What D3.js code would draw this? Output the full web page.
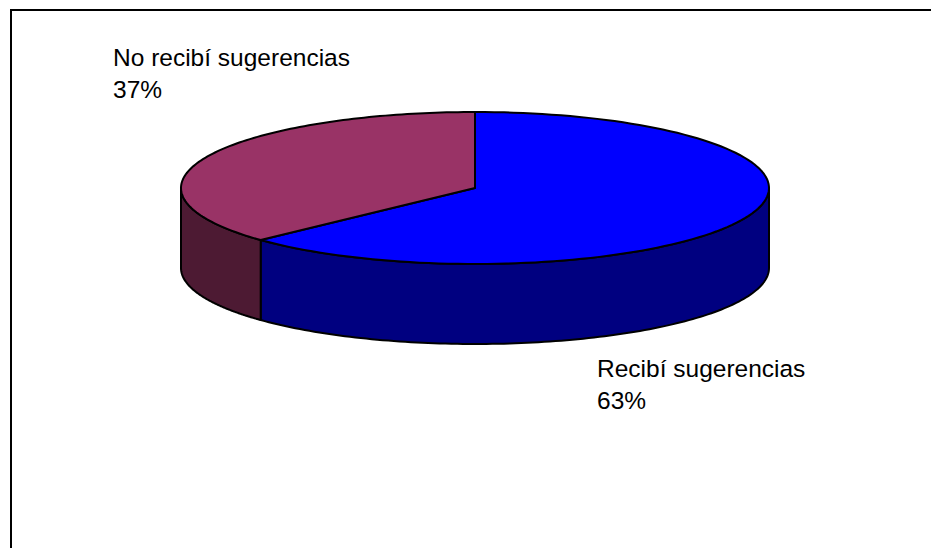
<!DOCTYPE html>
<html><head><meta charset="utf-8">
<script src="https://cdn.jsdelivr.net/npm/d3@7"></script>
<style>html,body{margin:0;padding:0;background:#fff}svg{display:block}</style>
</head><body><svg id="c" width="931" height="548"></svg>
<script>
const categories = ["Recibí sugerencias", "No recibí sugerencias"];
const values = [63, 37];
const topColors = ["#0000ff", "#993366"];
const sideColors = ["#000080", "#4d1a33"];
const svg = d3.select("#c");
svg.append("rect").attr("x",11).attr("y",10).attr("width",930).attr("height",550)
  .attr("fill","#fff").attr("stroke","#000").attr("stroke-width",2);

const cx=475, cy=188, rx=294, ry=76, depth=80;
const pie = d3.pie().sort(null)(values);
const sx = d3.scaleLinear().domain([-1,1]).range([cx-rx,cx+rx]);
const sy = d3.scaleLinear().domain([-1,1]).range([cy-ry,cy+ry]);
const px = a => sx(Math.sin(a)), py = a => sy(-Math.cos(a));
const arcPts = (a0,a1) => d3.range(0,121).map(i=>{const a=a0+(a1-a0)*i/120;return [px(a),py(a)];});
const line = d3.line();
const stroke = {stroke:"#000","stroke-width":2,"stroke-linejoin":"round"};
function style(s,fill){s.attr("fill",fill).attr("stroke",stroke.stroke).attr("stroke-width",stroke["stroke-width"]).attr("stroke-linejoin","round");}

// side walls: only the front half of each slice is visible
pie.forEach((d,i)=>{
  const a0=Math.max(d.startAngle,Math.PI/2), a1=Math.min(d.endAngle,Math.PI*1.5);
  if(a1<=a0) return;
  const top=arcPts(a0,a1), bottom=top.slice().reverse().map(p=>[p[0],p[1]+depth]);
  svg.append("path").attr("d",line(top.concat(bottom))+"Z").call(style,sideColors[i]);
});
// top faces
pie.forEach((d,i)=>{
  svg.append("path").attr("d",line([[cx,cy]].concat(arcPts(d.startAngle,d.endAngle)))+"Z").call(style,topColors[i]);
});

const font="'Liberation Sans',Arial,sans-serif";
function label(x,y,name,pct){
  const t=svg.append("text").attr("font-family",font).attr("font-size",24.5).attr("fill","#000");
  t.append("tspan").attr("x",x).attr("y",y).text(name);
  t.append("tspan").attr("x",x).attr("y",y+32).text(pct+"%");
}
label(113,66,categories[1],values[1]);
label(597,377,categories[0],values[0]);
</script></body></html>
